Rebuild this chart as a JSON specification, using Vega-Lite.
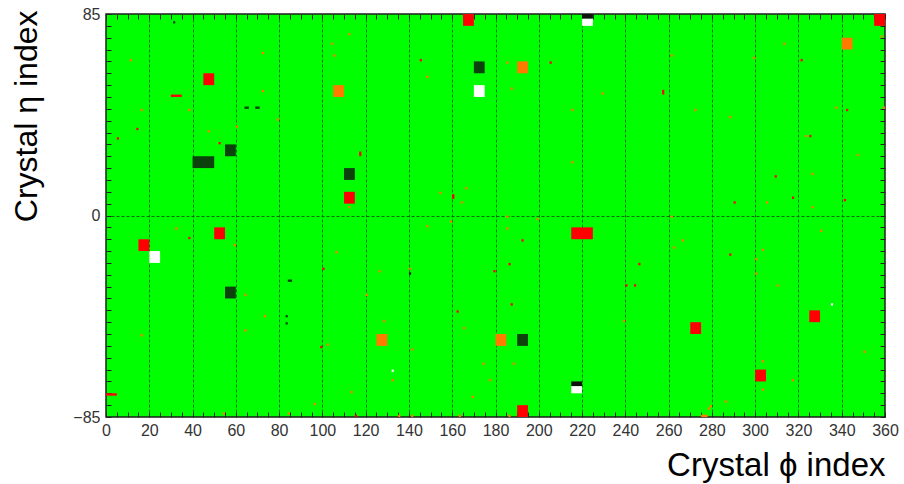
{
  "$schema": "https://vega.github.io/schema/vega-lite/v6.json",
  "width": 779,
  "height": 403,
  "autosize": {"type": "none"},
  "padding": {"left": 106, "top": 14, "right": 19, "bottom": 67},
  "background": "#ffffff",
  "config": {
    "view": {"fill": "#00ff00", "stroke": "#1e1e1e", "strokeWidth": 1.5},
    "axis": {"labelFont": "Liberation Sans", "titleFont": "Liberation Sans", "titleFontWeight": "normal"}
  },
  "data": {
    "values": [
      {"p0": 165, "p1": 170, "e0": 80, "e1": 85, "s": "red"},
      {"p0": 45, "p1": 50, "e0": 55, "e1": 60, "s": "red"},
      {"p0": 30, "p1": 35, "e0": 50, "e1": 51, "s": "red"},
      {"p0": 105, "p1": 110, "e0": 50, "e1": 55, "s": "orange"},
      {"p0": 170, "p1": 175, "e0": 60, "e1": 65, "s": "dark"},
      {"p0": 170, "p1": 175, "e0": 50, "e1": 55, "s": "white"},
      {"p0": 55, "p1": 60, "e0": 25, "e1": 30, "s": "dark"},
      {"p0": 40, "p1": 50, "e0": 20, "e1": 25, "s": "dark"},
      {"p0": 110, "p1": 115, "e0": 15, "e1": 20, "s": "dark"},
      {"p0": 110, "p1": 115, "e0": 5, "e1": 10, "s": "red"},
      {"p0": 31, "p1": 32, "e0": 81, "e1": 82, "s": "dark"},
      {"p0": 64, "p1": 66, "e0": 45, "e1": 46, "s": "dark"},
      {"p0": 69, "p1": 71, "e0": 45, "e1": 46, "s": "dark"},
      {"p0": 220, "p1": 225, "e0": 83, "e1": 85, "s": "black"},
      {"p0": 220, "p1": 225, "e0": 80, "e1": 83, "s": "white"},
      {"p0": 355, "p1": 360, "e0": 80, "e1": 85, "s": "red"},
      {"p0": 340, "p1": 345, "e0": 70, "e1": 75, "s": "orange"},
      {"p0": 190, "p1": 195, "e0": 60, "e1": 65, "s": "orange"},
      {"p0": 15, "p1": 20, "e0": -15, "e1": -10, "s": "red"},
      {"p0": 20, "p1": 25, "e0": -20, "e1": -15, "s": "white"},
      {"p0": 50, "p1": 55, "e0": -10, "e1": -5, "s": "red"},
      {"p0": 55, "p1": 60, "e0": -35, "e1": -30, "s": "dark"},
      {"p0": 125, "p1": 130, "e0": -55, "e1": -50, "s": "orange"},
      {"p0": 180, "p1": 185, "e0": -55, "e1": -50, "s": "orange"},
      {"p0": 0, "p1": 5, "e0": -76, "e1": -75, "s": "red"},
      {"p0": 84, "p1": 86, "e0": -28, "e1": -27, "s": "dark"},
      {"p0": 83, "p1": 84, "e0": -43, "e1": -42, "s": "dark"},
      {"p0": 83, "p1": 84, "e0": -46, "e1": -45, "s": "dark"},
      {"p0": 140, "p1": 141, "e0": -25, "e1": -24, "s": "black"},
      {"p0": 132, "p1": 133, "e0": -66, "e1": -65, "s": "white"},
      {"p0": 215, "p1": 225, "e0": -10, "e1": -5, "s": "red"},
      {"p0": 190, "p1": 195, "e0": -55, "e1": -50, "s": "dark"},
      {"p0": 215, "p1": 220, "e0": -72, "e1": -70, "s": "black"},
      {"p0": 215, "p1": 220, "e0": -75, "e1": -72, "s": "white"},
      {"p0": 190, "p1": 195, "e0": -85, "e1": -80, "s": "red"},
      {"p0": 270, "p1": 275, "e0": -50, "e1": -45, "s": "red"},
      {"p0": 325, "p1": 330, "e0": -45, "e1": -40, "s": "red"},
      {"p0": 300, "p1": 305, "e0": -70, "e1": -65, "s": "red"},
      {"p0": 335, "p1": 336, "e0": -38, "e1": -37, "s": "white"},
      {"p0": 275, "p1": 278, "e0": -85, "e1": -84, "s": "orange"},

      {"p0": 11, "p1": 12, "e0": 65, "e1": 66, "s": "orange"},
      {"p0": 16, "p1": 17, "e0": 44, "e1": 45, "s": "orange"},
      {"p0": 14, "p1": 15, "e0": 36, "e1": 37, "s": "red"},
      {"p0": 5, "p1": 6, "e0": 32, "e1": 33, "s": "red"},
      {"p0": 38, "p1": 39, "e0": 44, "e1": 45, "s": "orange"},
      {"p0": 47, "p1": 48, "e0": 35, "e1": 36, "s": "orange"},
      {"p0": 52, "p1": 53, "e0": 30, "e1": 31, "s": "red"},
      {"p0": 60, "p1": 61, "e0": 37, "e1": 38, "s": "orange"},
      {"p0": 72, "p1": 73, "e0": 68, "e1": 69, "s": "orange"},
      {"p0": 72, "p1": 73, "e0": 52, "e1": 53, "s": "orange"},
      {"p0": 79, "p1": 80, "e0": 40, "e1": 41, "s": "orange"},
      {"p0": 104, "p1": 105, "e0": 72, "e1": 73, "s": "orange"},
      {"p0": 105, "p1": 106, "e0": 67, "e1": 68, "s": "orange"},
      {"p0": 112, "p1": 113, "e0": 76, "e1": 77, "s": "orange"},
      {"p0": 117, "p1": 118, "e0": 25, "e1": 27, "s": "red"},
      {"p0": 112, "p1": 113, "e0": 3, "e1": 4, "s": "orange"},
      {"p0": 145, "p1": 146, "e0": 65, "e1": 66, "s": "red"},
      {"p0": 148, "p1": 149, "e0": 58, "e1": 59, "s": "orange"},
      {"p0": 154, "p1": 155, "e0": 9, "e1": 10, "s": "orange"},
      {"p0": 160, "p1": 161, "e0": 7, "e1": 9, "s": "red"},
      {"p0": 164, "p1": 165, "e0": 5, "e1": 6, "s": "orange"},
      {"p0": 166, "p1": 167, "e0": 11, "e1": 12, "s": "orange"},

      {"p0": 185, "p1": 186, "e0": 64, "e1": 65, "s": "orange"},
      {"p0": 187, "p1": 188, "e0": 53, "e1": 54, "s": "orange"},
      {"p0": 205, "p1": 206, "e0": 64, "e1": 65, "s": "red"},
      {"p0": 215, "p1": 216, "e0": 44, "e1": 45, "s": "orange"},
      {"p0": 215, "p1": 216, "e0": 22, "e1": 23, "s": "orange"},
      {"p0": 229, "p1": 230, "e0": 51, "e1": 52, "s": "orange"},
      {"p0": 261, "p1": 262, "e0": 67, "e1": 68, "s": "orange"},
      {"p0": 257, "p1": 258, "e0": 51, "e1": 53, "s": "red"},
      {"p0": 272, "p1": 273, "e0": 44, "e1": 45, "s": "orange"},
      {"p0": 288, "p1": 289, "e0": 41, "e1": 42, "s": "orange"},
      {"p0": 299, "p1": 300, "e0": 66, "e1": 67, "s": "orange"},
      {"p0": 313, "p1": 314, "e0": 72, "e1": 73, "s": "orange"},
      {"p0": 321, "p1": 322, "e0": 65, "e1": 66, "s": "red"},
      {"p0": 323, "p1": 324, "e0": 33, "e1": 34, "s": "orange"},
      {"p0": 325, "p1": 326, "e0": 33, "e1": 34, "s": "red"},
      {"p0": 309, "p1": 310, "e0": 16, "e1": 17, "s": "red"},
      {"p0": 317, "p1": 318, "e0": 7, "e1": 8, "s": "red"},
      {"p0": 326, "p1": 327, "e0": 17, "e1": 18, "s": "orange"},
      {"p0": 326, "p1": 327, "e0": 3, "e1": 4, "s": "orange"},
      {"p0": 305, "p1": 306, "e0": 5, "e1": 6, "s": "orange"},
      {"p0": 290, "p1": 291, "e0": 5, "e1": 6, "s": "red"},
      {"p0": 337, "p1": 338, "e0": 45, "e1": 46, "s": "orange"},
      {"p0": 342, "p1": 343, "e0": 44, "e1": 45, "s": "red"},
      {"p0": 347, "p1": 348, "e0": 25, "e1": 26, "s": "orange"},
      {"p0": 341, "p1": 342, "e0": 6, "e1": 7, "s": "red"},
      {"p0": 358, "p1": 359, "e0": 75, "e1": 76, "s": "orange"},
      {"p0": 359, "p1": 360, "e0": 45, "e1": 46, "s": "orange"},
      {"p0": 185, "p1": 186, "e0": -1, "e1": 0, "s": "orange"},
      {"p0": 199, "p1": 200, "e0": -2, "e1": -1, "s": "orange"},
      {"p0": 261, "p1": 262, "e0": -1, "e1": 0, "s": "orange"},

      {"p0": 32, "p1": 33, "e0": -6, "e1": -5, "s": "orange"},
      {"p0": 38, "p1": 39, "e0": -10, "e1": -9, "s": "red"},
      {"p0": 59, "p1": 60, "e0": -13, "e1": -12, "s": "orange"},
      {"p0": 64, "p1": 65, "e0": -34, "e1": -33, "s": "orange"},
      {"p0": 64, "p1": 65, "e0": -49, "e1": -48, "s": "orange"},
      {"p0": 73, "p1": 74, "e0": -43, "e1": -42, "s": "orange"},
      {"p0": 16, "p1": 17, "e0": -51, "e1": -50, "s": "orange"},
      {"p0": 54, "p1": 55, "e0": -84, "e1": -83, "s": "orange"},
      {"p0": 84, "p1": 85, "e0": -84, "e1": -83, "s": "orange"},
      {"p0": 100, "p1": 101, "e0": -23, "e1": -22, "s": "red"},
      {"p0": 106, "p1": 107, "e0": -16, "e1": -15, "s": "orange"},
      {"p0": 99, "p1": 100, "e0": -56, "e1": -55, "s": "red"},
      {"p0": 102, "p1": 103, "e0": -55, "e1": -54, "s": "orange"},
      {"p0": 113, "p1": 114, "e0": -75, "e1": -74, "s": "orange"},
      {"p0": 96, "p1": 97, "e0": -80, "e1": -79, "s": "orange"},
      {"p0": 115, "p1": 116, "e0": -85, "e1": -84, "s": "red"},
      {"p0": 120, "p1": 121, "e0": -34, "e1": -33, "s": "orange"},
      {"p0": 126, "p1": 127, "e0": -24, "e1": -23, "s": "orange"},
      {"p0": 128, "p1": 129, "e0": -45, "e1": -44, "s": "orange"},
      {"p0": 132, "p1": 133, "e0": -70, "e1": -69, "s": "orange"},
      {"p0": 135, "p1": 136, "e0": -85, "e1": -84, "s": "orange"},
      {"p0": 140, "p1": 141, "e0": -23, "e1": -22, "s": "orange"},
      {"p0": 141, "p1": 142, "e0": -57, "e1": -56, "s": "orange"},
      {"p0": 148, "p1": 149, "e0": -5, "e1": -4, "s": "orange"},
      {"p0": 159, "p1": 160, "e0": -3, "e1": -2, "s": "orange"},
      {"p0": 162, "p1": 163, "e0": -41, "e1": -40, "s": "red"},
      {"p0": 165, "p1": 166, "e0": -48, "e1": -47, "s": "orange"},
      {"p0": 174, "p1": 175, "e0": -63, "e1": -62, "s": "orange"},
      {"p0": 177, "p1": 178, "e0": -70, "e1": -69, "s": "orange"},
      {"p0": 169, "p1": 170, "e0": -77, "e1": -76, "s": "orange"},
      {"p0": 163, "p1": 164, "e0": -85, "e1": -84, "s": "orange"},
      {"p0": 179, "p1": 180, "e0": -24, "e1": -23, "s": "red"},
      {"p0": 141, "p1": 142, "e0": -85, "e1": -84, "s": "orange"},

      {"p0": 185, "p1": 186, "e0": -6, "e1": -5, "s": "orange"},
      {"p0": 192, "p1": 193, "e0": -11, "e1": -10, "s": "red"},
      {"p0": 186, "p1": 187, "e0": -21, "e1": -20, "s": "red"},
      {"p0": 187, "p1": 188, "e0": -38, "e1": -37, "s": "red"},
      {"p0": 188, "p1": 189, "e0": -63, "e1": -62, "s": "orange"},
      {"p0": 246, "p1": 247, "e0": -21, "e1": -20, "s": "red"},
      {"p0": 240, "p1": 241, "e0": -30, "e1": -29, "s": "red"},
      {"p0": 244, "p1": 245, "e0": -30, "e1": -29, "s": "red"},
      {"p0": 239, "p1": 240, "e0": -45, "e1": -44, "s": "orange"},
      {"p0": 262, "p1": 263, "e0": -14, "e1": -13, "s": "orange"},
      {"p0": 266, "p1": 267, "e0": -11, "e1": -10, "s": "orange"},
      {"p0": 288, "p1": 289, "e0": -17, "e1": -16, "s": "red"},
      {"p0": 303, "p1": 304, "e0": -15, "e1": -14, "s": "orange"},
      {"p0": 300, "p1": 301, "e0": -19, "e1": -18, "s": "orange"},
      {"p0": 300, "p1": 301, "e0": -25, "e1": -24, "s": "orange"},
      {"p0": 310, "p1": 311, "e0": -30, "e1": -29, "s": "orange"},
      {"p0": 330, "p1": 331, "e0": -7, "e1": -6, "s": "orange"},
      {"p0": 350, "p1": 351, "e0": -58, "e1": -57, "s": "orange"},
      {"p0": 303, "p1": 304, "e0": -62, "e1": -61, "s": "orange"},
      {"p0": 303, "p1": 304, "e0": -74, "e1": -73, "s": "orange"},
      {"p0": 317, "p1": 318, "e0": -70, "e1": -69, "s": "orange"},
      {"p0": 286, "p1": 287, "e0": -79, "e1": -78, "s": "orange"},
      {"p0": 279, "p1": 280, "e0": -81, "e1": -80, "s": "orange"},
      {"p0": 278, "p1": 279, "e0": -82, "e1": -81, "s": "orange"},
      {"p0": 186, "p1": 187, "e0": -85, "e1": -84, "s": "orange"}
    ]
  },
  "layer": [
    {
      "mark": {"type": "rect"},
      "encoding": {
        "x": {
          "field": "p0", "type": "quantitative",
          "scale": {"domain": [0, 360], "nice": false, "zero": false},
          "axis": {
            "values": [0,5,10,15,20,25,30,35,40,45,50,55,60,65,70,75,80,85,90,95,100,105,110,115,120,125,130,135,140,145,150,155,160,165,170,175,180,185,190,195,200,205,210,215,220,225,230,235,240,245,250,255,260,265,270,275,280,285,290,295,300,305,310,315,320,325,330,335,340,345,350,355,360],
            "labelExpr": "datum.value % 20 === 0 ? datum.label : ''",
            "labelFlush": false,
            "labelOverlap": false,
            "labelFontSize": 16,
            "labelColor": "#333333",
            "labelPadding": 10,
            "domain": false,
            "tickSize": -5,
            "tickColor": "#222222",
            "tickWidth": 1,
            "grid": true,
            "gridColor": "#0a6e0a",
            "gridDash": [3, 2],
            "gridWidth": 1,
            "gridOpacity": {"condition": {"test": "datum.value % 20 === 0 && datum.value > 0 && datum.value < 360", "value": 1}, "value": 0},
            "title": "Crystal ϕ index",
            "titleFontSize": 33,
            "titleColor": "#000000",
            "titleAnchor": "end",
            "titleAlign": "right",
            "titleBaseline": "alphabetic",
            "titleX": 779,
            "titleY": 58
          }
        },
        "x2": {"field": "p1"},
        "y": {
          "field": "e0", "type": "quantitative",
          "scale": {"domain": [-85, 85], "nice": false, "zero": false},
          "axis": {
            "values": [-85,-80,-75,-70,-65,-60,-55,-50,-45,-40,-35,-30,-25,-20,-15,-10,-5,0,5,10,15,20,25,30,35,40,45,50,55,60,65,70,75,80,85],
            "labelExpr": "abs(datum.value) === 85 || datum.value === 0 ? datum.label : ''",
            "labelFlush": false,
            "labelOverlap": false,
            "labelFontSize": 16,
            "labelColor": "#333333",
            "labelPadding": 11,
            "domain": false,
            "tickSize": -5,
            "tickColor": "#222222",
            "tickWidth": 1,
            "grid": true,
            "gridColor": "#0a6e0a",
            "gridDash": [3, 2],
            "gridWidth": 1,
            "gridOpacity": {"condition": {"test": "datum.value === 0", "value": 1}, "value": 0},
            "title": "Crystal η index",
            "titleFontSize": 32,
            "titleColor": "#000000",
            "titleAngle": -90,
            "titleAnchor": "end",
            "titleAlign": "right",
            "titleBaseline": "alphabetic",
            "titleX": -70,
            "titleY": -4
          }
        },
        "y2": {"field": "e1"},
        "color": {
          "field": "s", "type": "nominal",
          "scale": {"domain": ["red", "orange", "white", "dark", "black"], "range": ["#ff0000", "#ff7b00", "#ffffff", "#0c420c", "#111111"]},
          "legend": null
        }
      }
    },
    {
      "mark": {"type": "rect", "opacity": 0},
      "encoding": {
        "x": {
          "field": "p0", "type": "quantitative",
          "axis": {
            "orient": "top",
            "values": [0,5,10,15,20,25,30,35,40,45,50,55,60,65,70,75,80,85,90,95,100,105,110,115,120,125,130,135,140,145,150,155,160,165,170,175,180,185,190,195,200,205,210,215,220,225,230,235,240,245,250,255,260,265,270,275,280,285,290,295,300,305,310,315,320,325,330,335,340,345,350,355,360],
            "labels": false, "domain": false, "grid": false,
            "tickSize": -5, "tickColor": "#222222", "title": null
          }
        },
        "x2": {"field": "p1"},
        "y": {
          "field": "e0", "type": "quantitative",
          "axis": {
            "orient": "right",
            "values": [-85,-80,-75,-70,-65,-60,-55,-50,-45,-40,-35,-30,-25,-20,-15,-10,-5,0,5,10,15,20,25,30,35,40,45,50,55,60,65,70,75,80,85],
            "labels": false, "domain": false, "grid": false,
            "tickSize": -5, "tickColor": "#222222", "title": null
          }
        },
        "y2": {"field": "e1"}
      }
    }
  ],
  "resolve": {"axis": {"x": "independent", "y": "independent"}}
}
